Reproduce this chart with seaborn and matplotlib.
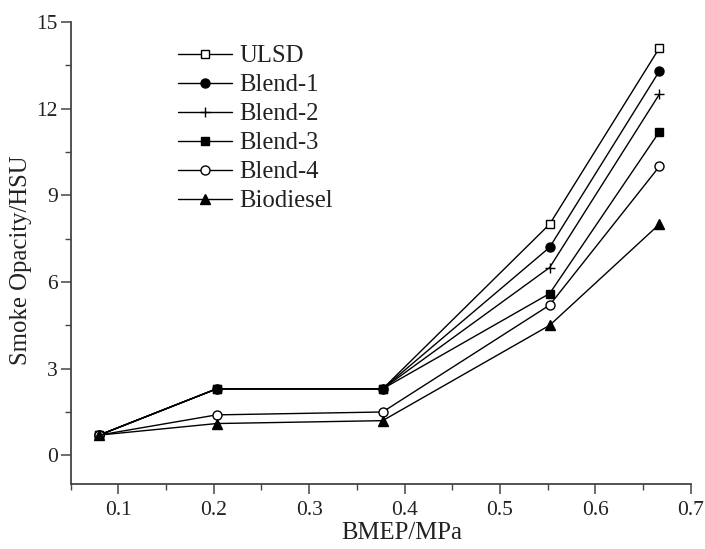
import matplotlib
matplotlib.use("Agg")
import matplotlib.pyplot as plt
from matplotlib.ticker import MultipleLocator
import seaborn as sns
import pandas as pd

sns.set_theme(style="ticks")
plt.rcParams['font.family'] = ['Liberation Serif', 'DejaVu Serif']

bmep = [0.08, 0.203, 0.377, 0.552, 0.667]
series_names = ["ULSD", "Blend-1", "Blend-2", "Blend-3", "Blend-4", "Biodiesel"]
ulsd = [0.7, 2.3, 2.3, 8.0, 14.1]
blend1 = [0.7, 2.3, 2.3, 7.2, 13.3]
blend2 = [0.7, 2.3, 2.3, 6.5, 12.5]
blend3 = [0.7, 2.3, 2.3, 5.6, 11.2]
blend4 = [0.7, 1.4, 1.5, 5.2, 10.0]
biodiesel = [0.7, 1.1, 1.2, 4.5, 8.0]
values = [ulsd, blend1, blend2, blend3, blend4, biodiesel]
x_ticks = [0.1, 0.2, 0.3, 0.4, 0.5, 0.6, 0.7]
x_tick_labels = ["0.1", "0.2", "0.3", "0.4", "0.5", "0.6", "0.7"]
y_ticks = [0, 3, 6, 9, 12, 15]
y_tick_labels = ["0", "3", "6", "9", "12", "15"]

markers = ["s", "o", "+", "s", "o", "^"]
faces = ["white", "black", "black", "black", "white", "black"]
msizes = [6, 6.5, 7, 6, 6.5, 7]

fig = plt.figure(figsize=(7.05, 5.49), dpi=100)
ax = fig.add_axes([0.100, 0.118, 0.880, 0.842])

for name, vals, m, fc, ms in zip(series_names, values, markers, faces, msizes):
    df = pd.DataFrame({"BMEP": bmep, "Smoke": vals})
    sns.lineplot(data=df, x="BMEP", y="Smoke", ax=ax, color="black", linewidth=1.0,
                 marker=m, markersize=ms, markerfacecolor=fc, markeredgecolor="black",
                 markeredgewidth=1.0, label=name)

ax.set_xlim(0.05, 0.7)
ax.set_ylim(-1, 15)
ax.xaxis.set_minor_locator(MultipleLocator(0.05))
ax.yaxis.set_minor_locator(MultipleLocator(1.5))
ax.set_xticks(x_ticks)
ax.set_xticklabels(x_tick_labels)
ax.set_yticks(y_ticks)
ax.set_yticklabels(y_tick_labels)

for side in ["top", "right"]:
    ax.spines[side].set_visible(False)
for side in ["left", "bottom"]:
    ax.spines[side].set_color("#444444")
    ax.spines[side].set_linewidth(1.3)

ax.tick_params(axis="both", which="major", direction="out", length=7, width=1.1,
               color="#444444", labelsize=15.5, labelcolor="#222222")
ax.tick_params(axis="x", which="major", pad=5)
ax.tick_params(axis="y", which="major", pad=2)
ax.tick_params(axis="both", which="minor", direction="out", length=4, width=1.0,
               color="#444444")

ax.set_xlabel("BMEP/MPa", fontsize=17.8, color="#222222", va="top")
ax.set_ylabel("Smoke Opacity/HSU", fontsize=17.8, color="#222222")
ax.xaxis.set_label_coords(0.534, -0.082)
ax.yaxis.set_label_coords(-0.062, 0.485)
ax.grid(False)

leg = ax.legend(loc="upper left", bbox_to_anchor=(0.173, 0.950), frameon=False,
                fontsize=17.8, handlelength=2.18, handletextpad=0.32,
                labelspacing=0.27, borderpad=0, borderaxespad=0)
for t in leg.get_texts():
    t.set_color("#222222")

fig.savefig("out.png", dpi=100)
